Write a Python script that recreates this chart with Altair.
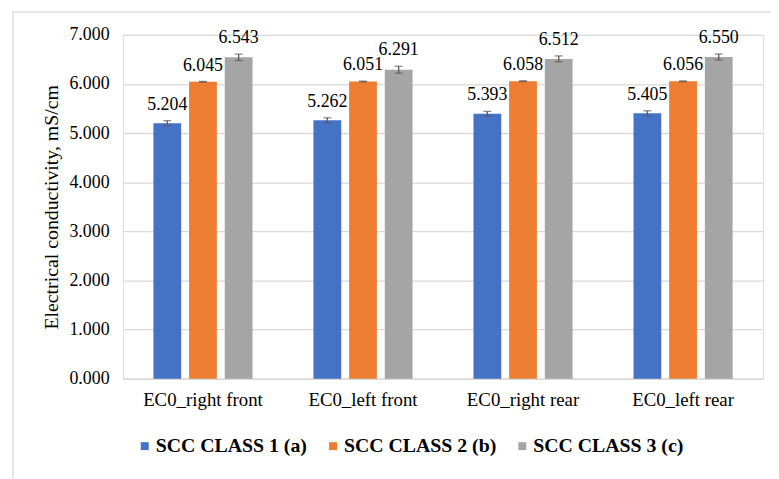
import altair as alt
import pandas as pd

categories = ["EC0_right front", "EC0_left front", "EC0_right rear", "EC0_left rear"]
series = ["SCC CLASS 1 (a)", "SCC CLASS 2 (b)", "SCC CLASS 3 (c)"]
class1 = [5.204, 5.262, 5.393, 5.405]
class2 = [6.045, 6.051, 6.058, 6.056]
class3 = [6.543, 6.291, 6.512, 6.550]
err1 = [0.05, 0.05, 0.05, 0.05]
err2 = [0.008, 0.008, 0.008, 0.008]
err3 = [0.065, 0.07, 0.06, 0.06]
colors = ["#4472C4", "#ED7D31", "#A5A5A5"]

rows = []
for s, vals, errs in zip(series, [class1, class2, class3], [err1, err2, err3]):
    for c, v, e in zip(categories, vals, errs):
        rows.append({"cat": c, "series": s, "value": v, "lo": v - e, "hi": v + e,
                     "label": f"{v:.3f}"})
df = pd.DataFrame(rows)

FONT = "Liberation Serif"

x_enc = alt.X("cat:N", sort=categories, title=None,
              scale=alt.Scale(paddingInner=0, paddingOuter=0),
              axis=alt.Axis(labelAngle=0, labelFont=FONT, labelFontSize=19,
                            labelColor="#000000", labelPadding=12, ticks=False,
                            domainColor="#d9d9d9", grid=False))
off_enc = alt.XOffset("series:N", sort=series,
                      scale=alt.Scale(paddingInner=0.222, paddingOuter=0.854))
y_scale = alt.Scale(domain=[0, 7], nice=False)

base = alt.Chart(df)

bars = base.mark_bar().encode(
    x=x_enc,
    xOffset=off_enc,
    y=alt.Y("value:Q", scale=y_scale,
            title="Electrical conductivity, mS/cm",
            axis=alt.Axis(values=[0, 1, 2, 3, 4, 5, 6, 7], format=".3f",
                          labelFont=FONT, labelFontSize=18, labelColor="#000000",
                          labelPadding=14, ticks=False, domain=False,
                          gridColor="#d9d9d9", gridWidth=1.3,
                          titleFont=FONT, titleFontSize=20, titleFontWeight="normal",
                          titleColor="#000000", titlePadding=8)),
    color=alt.Color("series:N", sort=series,
                    scale=alt.Scale(domain=series, range=colors),
                    legend=alt.Legend(title=None, orient="none", direction="horizontal",
                                      legendX=12, legendY=405,
                                      symbolType="square", symbolSize=64,
                                      symbolStrokeWidth=0,
                                      labelFont=FONT, labelFontSize=20,
                                      labelFontWeight="bold", labelColor="#000000",
                                      labelOffset=1, columnPadding=16)),
)

rule = base.mark_rule(color="#595959", strokeWidth=1.3).encode(
    x=alt.X("cat:N", sort=categories),
    xOffset=off_enc,
    y=alt.Y("lo:Q", scale=y_scale),
    y2="hi:Q",
)
cap_hi = base.mark_tick(color="#595959", thickness=1.3, size=8).encode(
    x=alt.X("cat:N", sort=categories),
    xOffset=off_enc,
    y=alt.Y("hi:Q", scale=y_scale),
)
cap_lo = base.mark_tick(color="#595959", thickness=1.3, size=8).encode(
    x=alt.X("cat:N", sort=categories),
    xOffset=off_enc,
    y=alt.Y("lo:Q", scale=y_scale),
)
labels = base.mark_text(font=FONT, fontSize=18, color="#000000",
                        baseline="bottom", dy=-7).encode(
    x=alt.X("cat:N", sort=categories),
    xOffset=off_enc,
    y=alt.Y("hi:Q", scale=y_scale),
    text="label:N",
)

frame = alt.Chart(alt.Data(values=[{"a": 1}])).mark_rect(
    fill=None, stroke="#d9d9d9", strokeWidth=1.3).encode(
    x=alt.value(-111), x2=alt.value(700), y=alt.value(-23), y2=alt.value(520))

chart = alt.layer(frame, bars, rule, cap_hi, cap_lo, labels).properties(
    width=646, height=347,
    autosize=alt.AutoSizeParams(type="none"),
    padding={"left": 116, "top": 25, "right": 8, "bottom": 98},
).configure_view(stroke=None).configure(background="#ffffff")

chart.save("out.html", embed_options={"renderer": "svg", "actions": False})
